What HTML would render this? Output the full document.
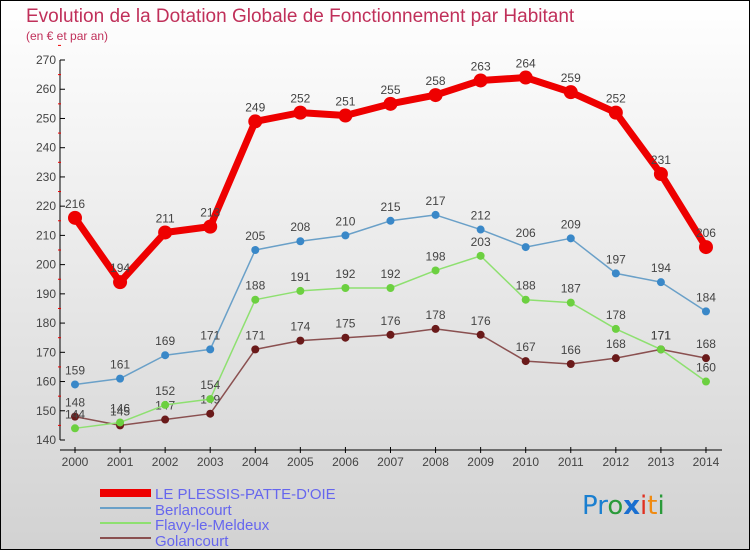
<!DOCTYPE html>
<html><head><meta charset="utf-8"><style>
html,body{margin:0;padding:0}
body{width:750px;height:550px;overflow:hidden;font-family:"Liberation Sans",sans-serif}
svg{display:block}
</style></head><body>
<svg id="c" width="750" height="550" xmlns="http://www.w3.org/2000/svg">
<defs><linearGradient id="bg" x1="0" y1="0" x2="0" y2="1"><stop offset="0" stop-color="#ffffff"/><stop offset="1" stop-color="#d2d2d2"/></linearGradient></defs>
<rect x="0.5" y="0.5" width="749" height="549" fill="url(#bg)" stroke="#000"/>
<text x="26" y="22" font-size="19" fill="#c0305a">Evolution de la Dotation Globale de Fonctionnement par Habitant</text>
<text x="26" y="40" font-size="12" fill="#c0305a">(en € et par an)</text>
<g id="axes"></g><g id="series"></g>
<g>
<rect x="100" y="489" width="51" height="8" fill="#e00"/>
<text x="155" y="499" font-size="15" fill="#6666ee">LE PLESSIS-PATTE-D'OIE</text>
<line x1="100" y1="508" x2="151" y2="508" stroke="#6aa0c8" stroke-width="2"/>
<text x="155" y="515" font-size="15" fill="#6666ee">Berlancourt</text>
<line x1="100" y1="523" x2="151" y2="523" stroke="#8ee070" stroke-width="2"/>
<text x="155" y="530" font-size="15" fill="#6666ee">Flavy-le-Meldeux</text>
<line x1="100" y1="538" x2="151" y2="538" stroke="#8a5050" stroke-width="2"/>
<text x="155" y="546" font-size="15" fill="#6666ee">Golancourt</text>
</g>
<g font-size="26" font-family="'DejaVu Sans',sans-serif">
<text x="582" y="514"><tspan fill="#1a7fd0">Pr</tspan><tspan fill="#2a9a3a">o</tspan><tspan fill="#1a6fd0" font-weight="bold">x</tspan><tspan fill="#e03020">i</tspan><tspan fill="#f08a10">t</tspan><tspan fill="#2a9a3a">i</tspan></text>
</g>
</svg>
<script>
const years=[2000,2001,2002,2003,2004,2005,2006,2007,2008,2009,2010,2011,2012,2013,2014];
const yTicks=[140,150,160,170,180,190,200,210,220,230,240,250,260,270];
const plessis=[216,194,211,213,249,252,251,255,258,263,264,259,252,231,206];
const berlancourt=[159,161,169,171,205,208,210,215,217,212,206,209,197,194,184];
const flavy=[144,146,152,154,188,191,192,192,198,203,188,187,178,171,160];
const golancourt=[148,145,147,149,171,174,175,176,178,176,167,166,168,171,168];
const NS="http://www.w3.org/2000/svg";
const X=i=>75+i*45.07;
const Y=v=>440-(v-140)*2.923;
function mk(t,a,p){const e=document.createElementNS(NS,t);for(const k in a)e.setAttribute(k,a[k]);p.appendChild(e);return e;}
const ax=document.getElementById('axes');
const ya=mk('line',{x1:60,y1:Y(270),x2:60,y2:440,stroke:'#000'},ax);


yTicks.forEach(v=>{
  mk('line',{x1:60,x2:65,y1:Y(v),y2:Y(v),stroke:'#000'},ax);
  mk('line',{x1:58,x2:61,y1:Y(v+5),y2:Y(v+5),stroke:'#e00'},ax);
  const t=mk('text',{x:56,y:Y(v)+4,'font-size':12,fill:'#444','text-anchor':'end'},ax);
  t.textContent=v;
  
  
});
const xa=mk('line',{x1:60,y1:450,x2:722,y2:450,stroke:'#000'},ax);


years.forEach((y,i)=>{
  mk('line',{x1:X(i),x2:X(i),y1:447,y2:453,stroke:'#000'},ax);
  const t=mk('text',{x:X(i),y:466,'font-size':12,fill:'#444','text-anchor':'middle'},ax);
  t.textContent=y;
  
  
});
const sg=document.getElementById('series');
function series(vals,color,dot,w,r,name){
  const g=mk('g',{},sg);
  
  
  const l=mk('polyline',{points:vals.map((v,i)=>X(i)+','+Y(v)).join(' '),fill:'none',stroke:color,'stroke-width':w,'stroke-linejoin':'round'},g);
  
  
  vals.forEach((v,i)=>{
    const c=mk('circle',{cx:X(i),cy:Y(v),r:r,fill:dot},g);
    
    
    const t=mk('text',{x:X(i),y:Y(v)-10,'font-size':12,fill:'#444','text-anchor':'middle'},g);
    t.textContent=v;
    
    
  });
}
series(golancourt,'#8a5050','#6a1a1a',1.5,4,'golancourt');
series(flavy,'#8ee070','#6cd040',1.5,4,'flavy');
series(berlancourt,'#6aa0c8','#3a88c8',1.5,4,'berlancourt');
series(plessis,'#ee0000','#ee0000',7,7,'plessis');
</script>
</body></html>
